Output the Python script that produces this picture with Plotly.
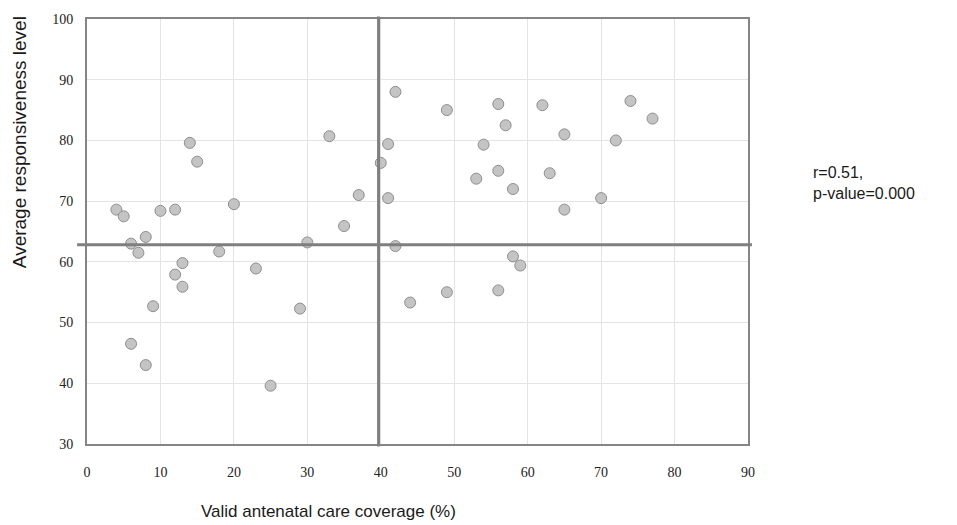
import plotly.graph_objects as go

# Data
coverage = [4, 5, 10, 12, 14, 15, 20, 33, 37, 35, 40, 41, 42, 41, 30, 8, 6, 7, 18, 42,
            13, 12, 13, 23, 9, 29, 44, 6, 8, 25,
            49, 56, 57, 62, 65, 74, 77, 72, 54, 53, 56, 58, 63, 70, 65, 58, 59, 49, 56]
responsiveness = [68.6, 67.5, 68.4, 68.6, 79.6, 76.5, 69.5, 80.7, 71.0, 65.9, 76.3, 79.4, 88.0, 70.5, 63.2, 64.1, 63.0, 61.5, 61.7, 62.6,
                  59.8, 57.9, 55.9, 58.9, 52.7, 52.3, 53.3, 46.5, 43.0, 39.6,
                  85.0, 86.0, 82.5, 85.8, 81.0, 86.5, 83.6, 80.0, 79.3, 73.7, 75.0, 72.0, 74.6, 70.5, 68.6, 60.9, 59.4, 55.0, 55.3]
mean_x = 39.7
mean_y = 62.8
x_range = [0, 90]
y_range = [30, 100]
x_ticks = [0, 10, 20, 30, 40, 50, 60, 70, 80, 90]
y_ticks = [30, 40, 50, 60, 70, 80, 90, 100]

fig = go.Figure()
fig.add_trace(go.Scatter(
    x=coverage, y=responsiveness, mode="markers",
    marker=dict(size=11, color="#c4c4c4", line=dict(color="#8e8e8e", width=1)),
    cliponaxis=False, showlegend=False,
))

xf = (mean_x - x_range[0]) / (x_range[1] - x_range[0])
yf = (mean_y - y_range[0]) / (y_range[1] - y_range[0])
fig.add_shape(type="line", xref="paper", yref="paper", x0=xf, x1=xf, y0=-0.006, y1=1.006,
              line=dict(color="#7f7f7f", width=3), layer="above")
fig.add_shape(type="line", xref="paper", yref="paper", x0=-0.015, x1=1.006, y0=yf, y1=yf,
              line=dict(color="#7f7f7f", width=3), layer="above")

fig.add_annotation(text="Average responsiveness level", textangle=-90, xref="paper", yref="paper",
                   x=-0.103, y=0.71, xanchor="center", yanchor="middle", showarrow=False,
                   font=dict(family="Liberation Sans, Arial", size=19, color="#1a1a1a"))
fig.add_annotation(text="Valid antenatal care coverage (%)", xref="paper", yref="paper",
                   x=0.365, y=-0.158, xanchor="center", yanchor="middle", showarrow=False,
                   font=dict(family="Liberation Sans, Arial", size=17, color="#1a1a1a"))
fig.add_annotation(text="r=0.51,<br>p-value=0.000", xref="paper", yref="paper",
                   x=1.096, y=0.615, xanchor="left", yanchor="middle", align="left", showarrow=False,
                   font=dict(family="Liberation Sans, Arial", size=16, color="#1a1a1a"))

axis_common = dict(showgrid=True, gridcolor="#e4e4e4", gridwidth=1, zeroline=False,
                   showline=True, linecolor="#858585", linewidth=2, mirror=True,
                   ticks="", tickfont=dict(family="Liberation Serif, Times New Roman", size=14, color="#222"))
fig.update_xaxes(range=x_range, tickvals=x_ticks, ticklabelstandoff=14, **axis_common)
fig.update_yaxes(range=y_range, tickvals=y_ticks, ticklabelstandoff=9, **axis_common)

fig.update_layout(
    width=957, height=525,
    margin=dict(l=87, r=209, t=19, b=81, pad=0),
    paper_bgcolor="white", plot_bgcolor="white",
)

fig.write_html("out.html")
